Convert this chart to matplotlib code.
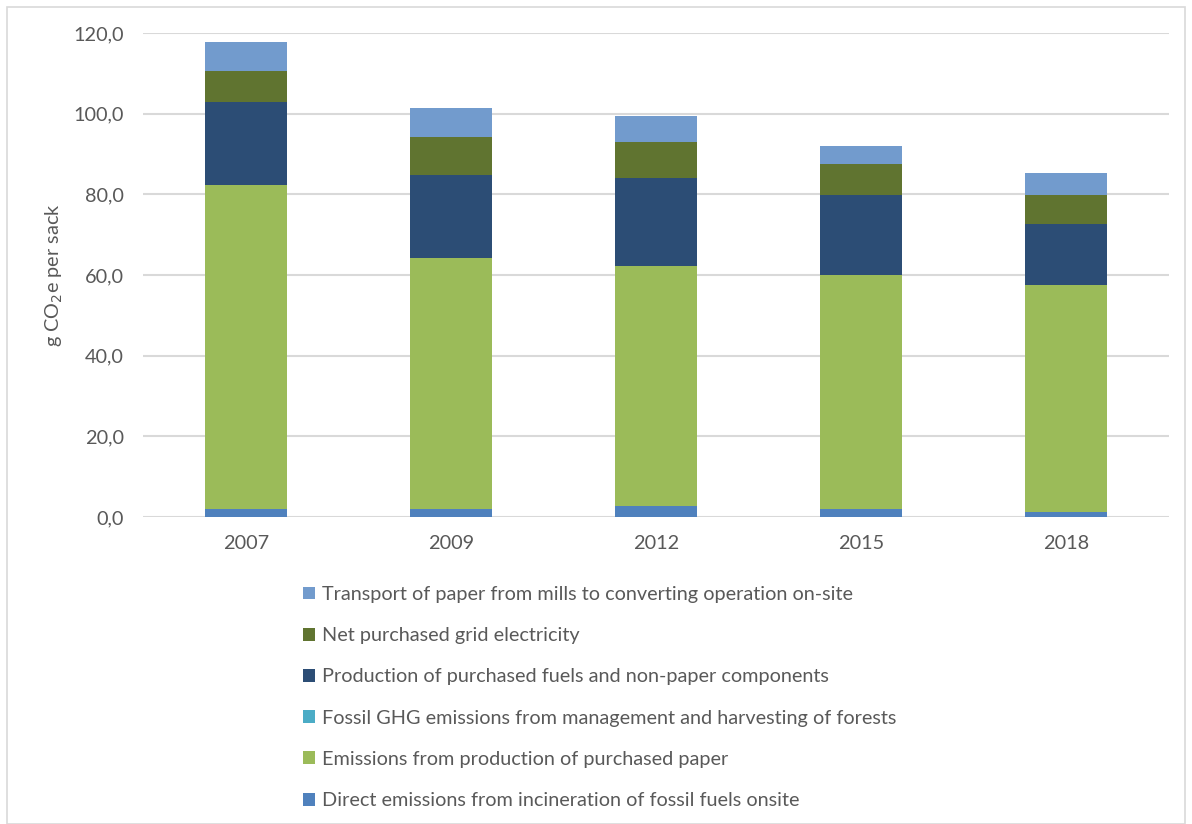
import matplotlib
matplotlib.use("Agg")
import matplotlib.pyplot as plt
from matplotlib.patches import Patch, Rectangle
import numpy as np

plt.rcParams['font.family'] = ['Lato', 'DejaVu Sans']

years = ["2007", "2009", "2012", "2015", "2018"]
direct = [2.0, 1.9, 2.8, 1.9, 1.3]
paper = [80.3, 62.2, 59.5, 58.1, 56.1]
forest = [0.0, 0.0, 0.0, 0.0, 0.0]
fuels = [20.6, 20.7, 21.7, 19.8, 15.2]
electricity = [7.7, 9.5, 9.0, 7.7, 7.2]
transport = [7.2, 7.2, 6.3, 4.6, 5.6]

series = [
    ("Direct emissions from incineration of fossil fuels onsite", direct, "#4f81bd"),
    ("Emissions from production of purchased paper", paper, "#9bbb59"),
    ("Fossil GHG emissions from management and harvesting of forests", forest, "#4bacc6"),
    ("Production of purchased fuels and non-paper components", fuels, "#2c4d75"),
    ("Net purchased grid electricity", electricity, "#607430"),
    ("Transport of paper from mills to converting operation on-site", transport, "#729bcd"),
]

FS = 14.3

fig = plt.figure(figsize=(11.92, 8.24), dpi=100)
ax = fig.add_axes([143/1192, 1 - 517/824, (1169 - 143)/1192, (517 - 33)/824])

x = np.arange(len(years))
bottom = np.zeros(len(years))
for label, vals, color in series:
    ax.bar(x, vals, width=0.4, bottom=bottom, color=color, label=label, zorder=3)
    bottom += np.array(vals)

ax.set_xlim(-0.5, len(years) - 0.5)
ax.set_ylim(0, 120)
ax.set_yticks(np.arange(0, 121, 20))
ax.set_yticklabels([f"{v:.1f}".replace(".", ",") for v in np.arange(0, 121, 20)])
ax.set_xticks(x)
ax.set_xticklabels(years)
ax.yaxis.grid(True, color="#d9d9d9", linewidth=1.5, zorder=0)
ax.set_axisbelow(True)
for s in ax.spines.values():
    s.set_visible(False)
ax.tick_params(axis='both', length=0, colors="#595959", labelsize=FS)
ax.tick_params(axis='y', pad=14)
ax.tick_params(axis='x', pad=13)
ax.set_ylabel("g CO$_2$e per sack", color="#595959", fontsize=FS, labelpad=6)

handles = [Patch(facecolor=c, edgecolor='none') for _, _, c in series][::-1]
labels = [l for l, _, _ in series][::-1]
leg = fig.legend(handles, labels, loc='upper left', bbox_to_anchor=(295/1192, 1 - 578/824),
                 frameon=False, fontsize=FS, labelspacing=1.22, handlelength=0.62,
                 handleheight=0.62, handletextpad=0.35, borderaxespad=0)
for t in leg.get_texts():
    t.set_color("#595959")

fig.patches.append(Rectangle((7/1192, 0), 1 - 14/1192, 1 - 7/824, transform=fig.transFigure,
                             fill=False, edgecolor="#d9d9d9", linewidth=1.2))

fig.savefig("out.png", dpi=100)
